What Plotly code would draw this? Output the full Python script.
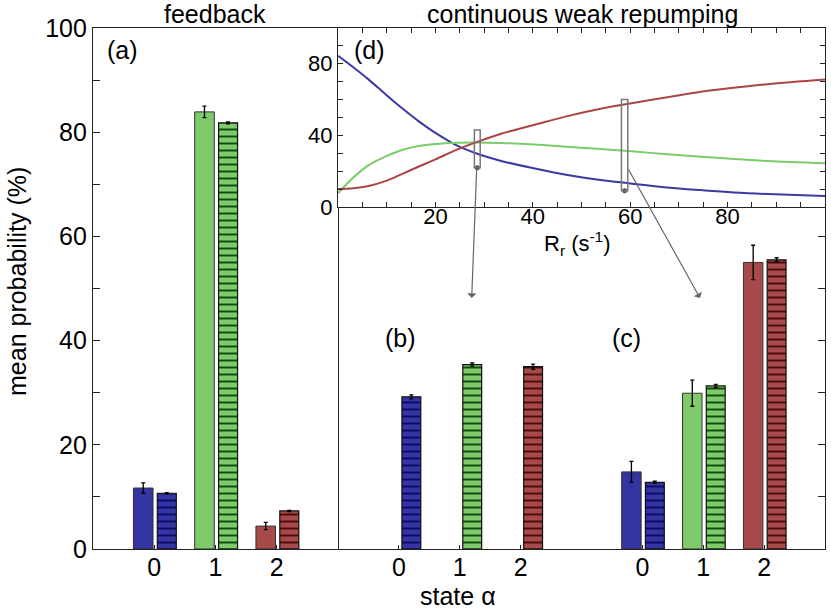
import plotly.graph_objects as go

# ---------------- data ----------------
states = ["0", "1", "2"]

# (a) feedback
feedback_measured = [11.7, 83.9, 4.4]
feedback_measured_err = [1.0, 1.1, 0.7]
feedback_sim = [10.7, 81.8, 7.3]
feedback_sim_err = [0.1, 0.2, 0.1]

# (b) continuous weak repumping, R_r ~ 28 s^-1 (simulation only)
weak_b_sim = [29.2, 35.4, 35.0]
weak_b_sim_err = [0.4, 0.3, 0.5]

# (c) continuous weak repumping, R_r ~ 59 s^-1
weak_c_measured = [14.8, 29.9, 55.0]
weak_c_measured_err = [2.0, 2.5, 3.3]
weak_c_sim = [12.8, 31.3, 55.5]
weak_c_sim_err = [0.2, 0.3, 0.4]

# (d) inset: probabilities vs repumping rate
R_r = [0, 3.2, 6.3, 9.7, 13.1, 16.6, 20, 24.7, 28.6, 33.5, 40.2, 47.1, 53.9, 59.7, 67.6, 74.5, 81.3, 88.2, 100]
p_state0 = [84, 77.5, 70.8, 62.8, 55.0, 47.6, 41.2, 33.8, 29.6, 25.6, 21.5, 17.8, 15.0, 13.2, 10.9, 9.4, 8.1, 7.2, 6.1]
p_state1 = [7.6, 16.5, 23.3, 28.0, 31.7, 33.9, 35.0, 35.7, 35.9, 35.6, 34.8, 33.5, 32.2, 31.1, 29.3, 28.0, 26.7, 25.6, 24.3]
p_state2 = [10.0, 10.4, 11.7, 14.4, 18.3, 22.5, 26.5, 32.2, 36.2, 40.7, 45.6, 50.5, 54.6, 57.4, 61.0, 64.1, 66.3, 68.3, 70.9]

# selected rates highlighted in the inset (rate, lower, upper)
sel_rates = [28.6, 58.85]
sel_halfwidth = [0.6, 0.65]
sel_low = [21.8, 9.0]
sel_high = [42.8, 59.8]

# ---------------- styling ----------------
C_FILL = ["#3434a3", "#7fca6b", "#a84a4a"]
C_HATCH = ["#0b0b66", "#0f4a0f", "#4a0c0c"]
C_LINE = ["#3a3aa2", "#7acb6a", "#aa4545"]
FONT = "Liberation Sans, Arial, sans-serif"
AX = "#222222"

pos_a = list(range(len(states)))
pos_b = list(range(len(states)))
pos_c = [p + 4 for p in range(len(states))]

W_SOLID, OFF_SOLID = 0.32, -0.34
W_HATCH, OFF_HATCH = 0.31, 0.05

fig = go.Figure()


def add_solid(x, y, err, xa, ya):
    fig.add_trace(go.Bar(
        x=x, y=y, xaxis=xa, yaxis=ya, width=W_SOLID, offset=OFF_SOLID,
        marker=dict(color=C_FILL, line=dict(color="#333333", width=1)),
        error_y=dict(type="data", array=err, color="black", thickness=1.3, width=2),
        showlegend=False,
    ))


def add_hatched(x, y, err, xa, ya):
    for i in range(len(x)):
        fig.add_trace(go.Bar(
            x=[x[i]], y=[y[i]], xaxis=xa, yaxis=ya, width=W_HATCH, offset=OFF_HATCH,
            marker=dict(color=C_FILL[i], line=dict(color="#111111", width=1.2),
                        pattern=dict(shape="-", fgcolor=C_HATCH[i], bgcolor=C_FILL[i],
                                     fgopacity=1, size=7, solidity=0.28, fillmode="replace")),
            error_y=dict(type="data", array=[err[i]], color="black", thickness=1.3, width=2),
            showlegend=False,
        ))


add_solid(pos_a, feedback_measured, feedback_measured_err, "x", "y")
add_hatched(pos_a, feedback_sim, feedback_sim_err, "x", "y")
add_hatched(pos_b, weak_b_sim, weak_b_sim_err, "x2", "y2")
add_solid(pos_c, weak_c_measured, weak_c_measured_err, "x2", "y2")
add_hatched(pos_c, weak_c_sim, weak_c_sim_err, "x2", "y2")

for p, c in zip([p_state0, p_state1, p_state2], C_LINE):
    fig.add_trace(go.Scatter(x=R_r, y=p, xaxis="x3", yaxis="y3", mode="lines",
                             line=dict(color=c, width=2, shape="spline", smoothing=1.0),
                             showlegend=False))

fig.add_trace(go.Scatter(x=sel_rates, y=sel_low, xaxis="x3", yaxis="y3", mode="markers",
                         marker=dict(color="#555555", size=5), showlegend=False))

# ---------------- layout ----------------
W, H = 831, 610
ML, MR, MT, MB = 93, 6, 28, 61
PW, PH = W - ML - MR, H - MT - MB
split_px = 338
d1 = (split_px - ML) / PW
inset_bottom_px = 207
y3lo = (MT + PH - inset_bottom_px) / PH


def px2paper(px, py):
    return (px - ML) / PW, (MT + PH - py) / PH


common = dict(showgrid=False, zeroline=False, showline=True, linecolor=AX, linewidth=1.2,
              tickcolor=AX, ticks="inside", automargin=False)

fig.update_layout(
    width=W, height=H, margin=dict(l=ML, r=MR, t=MT, b=MB, autoexpand=False),
    paper_bgcolor="white", plot_bgcolor="white", barmode="overlay",
    font=dict(family=FONT, size=25, color="black"),
    xaxis=dict(domain=[0, d1], range=[-1, 3], anchor="y", tickmode="array",
               tickvals=pos_a, ticktext=states, ticklen=4, mirror=True,
               ticklabelstandoff=-4, **common),
    yaxis=dict(domain=[0, 1], range=[0, 100], anchor="x", tickmode="linear", tick0=0, dtick=20,
               ticklen=7, mirror=True,
               minor=dict(tickmode="linear", tick0=0, dtick=10, ticks="inside", ticklen=7, tickcolor=AX),
               **common),
    xaxis2=dict(domain=[d1, 1], range=[-1, 7], anchor="y2", tickmode="array",
                tickvals=pos_b + pos_c, ticktext=states + states, ticklen=4, mirror=True,
                ticklabelstandoff=-4, **common),
    yaxis2=dict(domain=[0, 1], range=[0, 100], anchor="x2", side="right", showticklabels=False,
                tickmode="linear", tick0=0, dtick=10, ticklen=7, **common),
    xaxis3=dict(domain=[d1, 1], range=[0, 100], anchor="y3", tickmode="array",
                tickvals=[20, 40, 60, 80], ticklen=5, mirror="allticks",
                tickfont=dict(size=22), ticklabelstandoff=-11,
                minor=dict(tickmode="linear", tick0=0, dtick=5, ticks="inside", ticklen=5, tickcolor=AX),
                **common),
    yaxis3=dict(domain=[y3lo, 1], range=[0, 99.5], anchor="x3", tickmode="array",
                tickvals=[0, 40, 80], ticklen=5, mirror="allticks",
                tickfont=dict(size=22),
                minor=dict(tickmode="linear", tick0=0, dtick=10, ticks="inside", ticklen=5, tickcolor=AX),
                **common),
)

# highlight rectangles in the inset
for r, hw, lo, hi in zip(sel_rates, sel_halfwidth, sel_low, sel_high):
    fig.add_shape(type="rect", xref="x3", yref="y3", x0=r - hw, x1=r + hw, y0=lo, y1=hi,
                  line=dict(color="#777777", width=1.5), fillcolor="rgba(0,0,0,0)")

anns = []


def text(s, px, py, size=25, angle=0):
    x, y = px2paper(px, py)
    anns.append(dict(text=s, x=x, y=y, xref="paper", yref="paper", showarrow=False,
                     xanchor="center", yanchor="middle", textangle=angle,
                     font=dict(size=size, family=FONT, color="black")))


text("feedback", 215, 14)
text("continuous weak repumping", 582, 14)
text("(a)", 122, 50)
text("(d)", 369, 50)
text("(b)", 400, 338)
text("(c)", 626, 338)
text("R<sub>r</sub> (s<sup>-1</sup>)", 577, 243, size=22)
text("state α", 458, 596)
text("mean probability (%)", 17, 282, angle=-90)

# arrows from inset to the bar panels
arrow_tips_px = [(471.7, 298), (700, 298)]
arrow_tails_px = [(476.7, 168), (627.7, 168)]
for (tx, ty), (sx, sy) in zip(arrow_tips_px, arrow_tails_px):
    x, y = px2paper(tx, ty)
    anns.append(dict(x=x, y=y, xref="paper", yref="paper", ax=sx - tx, ay=sy - ty,
                     axref="pixel", ayref="pixel", showarrow=True, arrowhead=1,
                     arrowsize=1.3, arrowwidth=1.2, arrowcolor="#666666", text=""))

fig.update_layout(annotations=anns)

fig.write_html("out.html", config={"displayModeBar": False},
               post_script="document.body.style.margin='0px';")
